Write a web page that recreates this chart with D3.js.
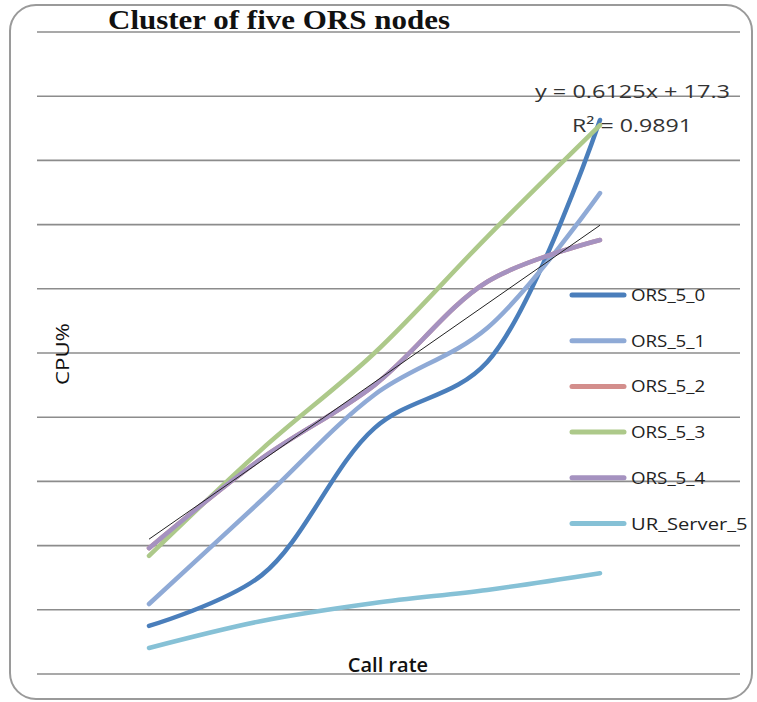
<!DOCTYPE html>
<html>
<head>
<meta charset="utf-8">
<script src="https://cdn.jsdelivr.net/npm/d3@7"></script>
<style>
  body { margin: 0; background: #fff; }
  svg { display: block; }
</style>
</head>
<body>
<div id="wrapper"></div>
<script>
// call rate steps (no tick labels are shown on the chart)
const callSteps = [1, 2, 3, 4, 5];

// CPU% readings per node
const ors50 = [7.5, 15.4, 38.3, 48.6, 86.3];
const ors51 = [10.9, 27.1, 43.5, 53.9, 74.9];
const ors52 = [19.6, 33.6, 45.0, 61.1, 67.6];
const ors53 = [18.4, 35.0, 50.0, 68.1, 85.5];
const ors54 = [19.6, 33.6, 45.0, 61.1, 67.6];
const urServer5 = [4.05, 8.26, 11.06, 13.1, 15.7];

const seriesNames = ["ORS_5_0", "ORS_5_1", "ORS_5_2", "ORS_5_3", "ORS_5_4", "UR_Server_5"];
const seriesColors = ["#4a7ebb", "#8faad6", "#d38e8c", "#adc98a", "#a592c0", "#86c1d6"];

// linear trendline, first and last step
const trendValues = [21.0, 69.9];
const trendText = ["y = 0.6125x + 17.3", "R² = 0.9891"];

const yGrid = d3.range(0, 101, 10);

const width = 757, height = 702;
const dimension = { left: 37, right: 740, top: 32, bottom: 674 };

const svg = d3.select("#wrapper").append("svg")
    .attr("width", width)
    .attr("height", height);

// chart frame
svg.append("rect")
    .attr("x", 10).attr("y", 5)
    .attr("width", 742).attr("height", 694)
    .attr("rx", 26).attr("ry", 26)
    .attr("fill", "#fff")
    .attr("stroke", "#9a9a9a")
    .attr("stroke-width", 2);

const xScaler = d3.scalePoint()
    .domain(callSteps)
    .range([149, 600]);

const yScaler = d3.scaleLinear()
    .domain([0, 100])
    .range([dimension.bottom, dimension.top]);

// gridlines
svg.append("g").selectAll("line")
    .data(yGrid)
    .join("line")
    .attr("x1", dimension.left)
    .attr("x2", dimension.right)
    .attr("y1", d => yScaler(d))
    .attr("y2", d => yScaler(d))
    .attr("stroke", "#8c8c8c")
    .attr("stroke-width", 1.6);

const allSeries = [ors50, ors51, ors52, ors53, ors54, urServer5];

const lineGen = d3.line()
    .x((d, i) => xScaler(callSteps[i]))
    .y(d => yScaler(d))
    .curve(d3.curveCatmullRom.alpha(0.5));

svg.append("g").selectAll("path")
    .data(allSeries)
    .join("path")
    .attr("d", d => lineGen(d))
    .attr("fill", "none")
    .attr("stroke", (d, i) => seriesColors[i])
    .attr("stroke-width", 4.5)
    .attr("stroke-linecap", "round");

// trendline
svg.append("line")
    .attr("x1", xScaler(callSteps[0]))
    .attr("x2", xScaler(callSteps[callSteps.length - 1]))
    .attr("y1", yScaler(trendValues[0]))
    .attr("y2", yScaler(trendValues[1]))
    .attr("stroke", "#222")
    .attr("stroke-width", 1);

const sansFont = "'Open Sans', 'DejaVu Sans', sans-serif";

svg.append("text")
    .attr("x", 535).attr("y", 98)
    .attr("font-family", sansFont)
    .attr("font-size", 18)
    .attr("textLength", 195)
    .attr("lengthAdjust", "spacingAndGlyphs")
    .attr("fill", "#333")
    .text(trendText[0]);

svg.append("text")
    .attr("x", 572).attr("y", 132)
    .attr("font-family", sansFont)
    .attr("font-size", 18)
    .attr("textLength", 120)
    .attr("lengthAdjust", "spacingAndGlyphs")
    .attr("fill", "#333")
    .text(trendText[1]);

// title
svg.append("text")
    .attr("x", 108).attr("y", 29)
    .attr("font-family", "'Liberation Serif', 'DejaVu Serif', serif")
    .attr("font-weight", "bold")
    .attr("font-size", 27)
    .attr("textLength", 342)
    .attr("lengthAdjust", "spacingAndGlyphs")
    .attr("fill", "#111")
    .text("Cluster of five ORS nodes");

// axis labels
svg.append("text")
    .attr("transform", "translate(69,354) rotate(-90)")
    .attr("text-anchor", "middle")
    .attr("font-family", sansFont)
    .attr("font-size", 19)
    .attr("textLength", 62)
    .attr("lengthAdjust", "spacingAndGlyphs")
    .attr("fill", "#111")
    .text("CPU%");

svg.append("text")
    .attr("x", 388).attr("y", 672)
    .attr("text-anchor", "middle")
    .attr("font-family", sansFont)
    .attr("font-size", 20)
    .attr("font-weight", 600)
    .attr("fill", "#111")
    .text("Call rate");

// legend
const legend = svg.append("g").selectAll("g")
    .data(seriesNames)
    .join("g")
    .attr("transform", (d, i) => `translate(572,${295 + i * 45.7})`);

legend.append("line")
    .attr("x1", 0).attr("x2", 52)
    .attr("stroke", (d, i) => seriesColors[i])
    .attr("stroke-width", 5)
    .attr("stroke-linecap", "round");

legend.append("text")
    .attr("x", 59).attr("y", 6)
    .attr("font-family", sansFont)
    .attr("font-size", 17)
    .attr("textLength", d => d.length * 10.6)
    .attr("lengthAdjust", "spacingAndGlyphs")
    .attr("fill", "#222")
    .text(d => d);
</script>
</body>
</html>
